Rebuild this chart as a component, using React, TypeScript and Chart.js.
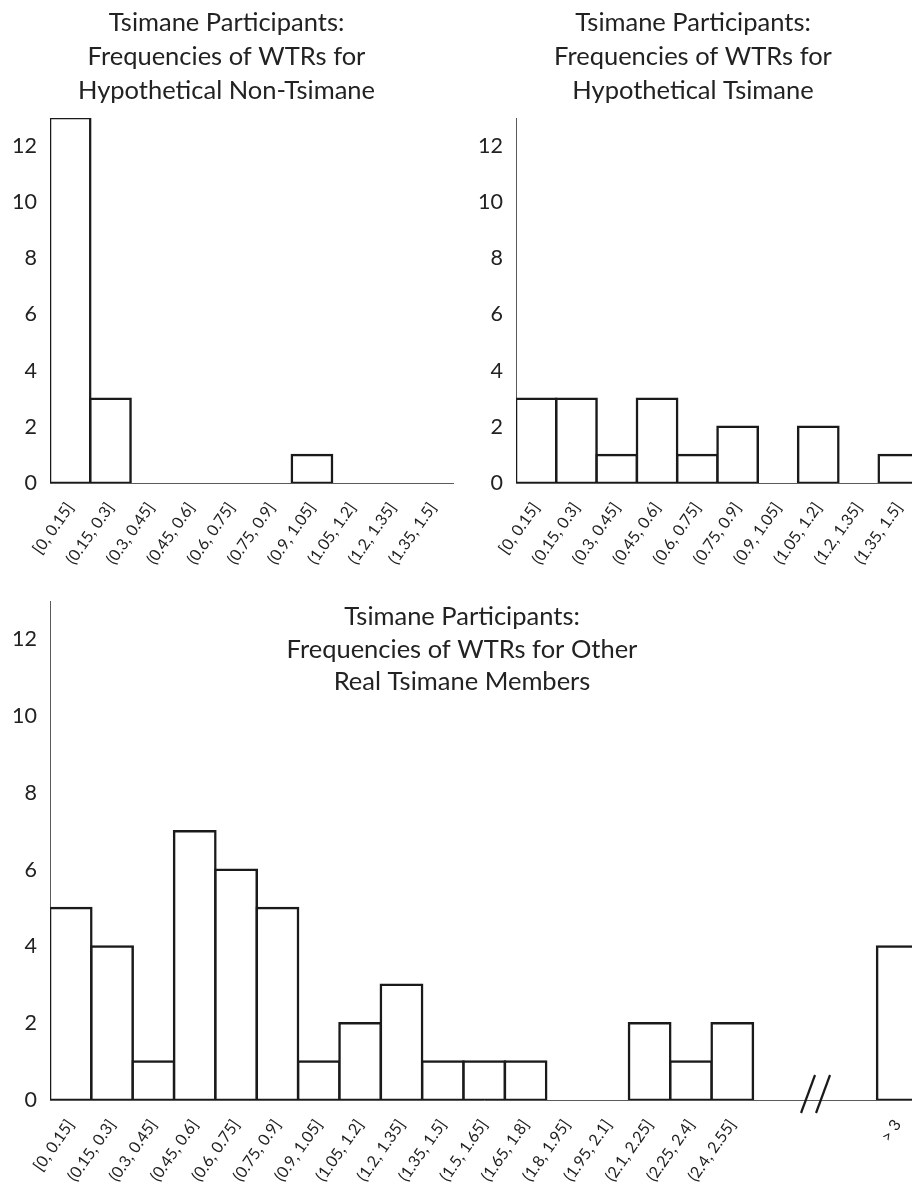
import React, { useEffect, useRef } from 'react';
import { Chart, registerables } from 'chart.js';

Chart.register(...registerables);

// ---------- data ----------
const binLabels = [
  '[0, 0.15]', '(0.15, 0.3]', '(0.3, 0.45]', '(0.45, 0.6]', '(0.6, 0.75]',
  '(0.75, 0.9]', '(0.9, 1.05]', '(1.05, 1.2]', '(1.2, 1.35]', '(1.35, 1.5]',
];
const extendedBinLabels = [
  ...binLabels,
  '(1.5, 1.65]', '(1.65, 1.8]', '(1.8, 1.95]', '(1.95, 2.1]', '(2.1, 2.25]',
  '(2.25, 2.4]', '(2.4, 2.55]', '', '', '', '> 3',
];
const hypotheticalNonTsimaneCounts = [13, 3, 0, 0, 0, 0, 1, 0, 0, 0];
const hypotheticalTsimaneCounts = [3, 3, 1, 3, 1, 2, 0, 2, 0, 1];
const realTsimaneCounts = [5, 4, 1, 7, 6, 5, 1, 2, 3, 1, 1, 1, 0, 0, 2, 1, 2, null, null, null, 4];
const axisBreakIndex = 18;

const yMin = 0;
const yMax = 13;
const yStep = 2;

const titleNonTsimane = ['Tsimane Participants:', 'Frequencies of WTRs for', 'Hypothetical Non-Tsimane'];
const titleTsimane = ['Tsimane Participants:', 'Frequencies of WTRs for', 'Hypothetical Tsimane'];
const titleReal = ['Tsimane Participants:', 'Frequencies of WTRs for Other', 'Real Tsimane Members'];

// ---------- styles ----------
const FONT = 'Lato, "Open Sans", sans-serif';
const TEXT = '#222222';
const AXIS = '#5a5a5a';
const BAR_BORDER = '#1a1a1a';
const TITLE_SIZE = 25.5;

type Props = {
  labels: string[];
  counts: (number | null)[];
  titleLines: string[];
  titleInside?: boolean;
  left: number;
  top: number;
  width: number;
  height: number;
  yAxisWidth: number;
  xAxisHeight: number;
  padRight: number;
  padTop: number;
  breakIndex?: number;
};

function HistChart(p: Props) {
  const ref = useRef<HTMLCanvasElement | null>(null);
  useEffect(() => {
    if (!ref.current) return;
    const insideTitle = {
      id: 'insideTitle',
      afterDraw(chart: any) {
        if (!p.titleInside) return;
        const ctx = chart.ctx;
        ctx.save();
        ctx.font = `${TITLE_SIZE}px ${FONT}`;
        ctx.fillStyle = TEXT;
        ctx.textAlign = 'center';
        ctx.textBaseline = 'alphabetic';
        const top = chart.chartArea.top;
        p.titleLines.forEach((line, i) => {
          ctx.fillText(line, chart.width / 2, top + 24 + i * 32.5);
        });
        ctx.restore();
      },
    };
    const axisBreak = {
      id: 'axisBreak',
      afterDraw(chart: any) {
        if (p.breakIndex === undefined) return;
        const ctx = chart.ctx;
        const x = chart.scales.x.getPixelForValue(p.breakIndex);
        const y = chart.scales.y.getPixelForValue(0);
        ctx.save();
        ctx.strokeStyle = BAR_BORDER;
        ctx.lineWidth = 2.2;
        [-7, 8].forEach((dx) => {
          ctx.beginPath();
          ctx.moveTo(x + dx - 7, y + 13);
          ctx.lineTo(x + dx + 7, y - 25);
          ctx.stroke();
        });
        ctx.restore();
      },
    };
    const chart = new Chart(ref.current, {
      type: 'bar',
      data: {
        labels: p.labels,
        datasets: [
          {
            data: p.counts.map((v) => (v === 0 ? null : v)),
            backgroundColor: '#ffffff',
            borderColor: BAR_BORDER,
            borderWidth: 2.5,
            borderSkipped: false,
            inflateAmount: 1.25,
            categoryPercentage: 1,
            barPercentage: 1,
          } as any,
        ],
      },
      options: {
        responsive: false,
        animation: false,
        devicePixelRatio: 1,
        layout: { padding: { left: 0, right: p.padRight, top: p.padTop, bottom: 0 } },
        plugins: {
          legend: { display: false },
          tooltip: { enabled: false },
          title: {
            display: !p.titleInside,
            text: p.titleLines,
            color: TEXT,
            font: { family: FONT, size: TITLE_SIZE, weight: 'normal', lineHeight: 34 / TITLE_SIZE },
            padding: { top: 6, bottom: 10 },
          },
        },
        scales: {
          x: {
            grid: { display: false, drawTicks: false },
            border: { display: true, color: AXIS, width: 1 },
            ticks: {
              autoSkip: false,
              minRotation: 55,
              maxRotation: 55,
              padding: 16,
              color: TEXT,
              font: { family: FONT, size: 16 },
            },
            afterFit: (s: any) => {
              s.height = p.xAxisHeight;
              s.paddingLeft = 0;
              s.paddingRight = 0;
            },
          },
          y: {
            min: yMin,
            max: yMax,
            grid: { display: false, drawTicks: false },
            border: { display: true, color: AXIS, width: 1 },
            ticks: {
              stepSize: yStep,
              includeBounds: false,
              padding: 13,
              color: TEXT,
              font: { family: FONT, size: 21.5 },
            },
            afterFit: (s: any) => {
              s.width = p.yAxisWidth;
              s.paddingTop = 0;
              s.paddingBottom = 0;
            },
          },
        },
      },
      plugins: [insideTitle, axisBreak],
    } as any);
    return () => chart.destroy();
  }, []);
  return (
    <canvas
      ref={ref}
      width={p.width}
      height={p.height}
      style={{ position: 'absolute', left: p.left, top: p.top, width: p.width, height: p.height }}
    />
  );
}

export default function App() {
  return (
    <div
      style={{
        position: 'absolute',
        left: 0,
        top: 0,
        width: 912,
        height: 1193,
        overflow: 'hidden',
        background: '#ffffff',
      }}
    >
      <HistChart
        labels={binLabels}
        counts={hypotheticalNonTsimaneCounts}
        titleLines={titleNonTsimane}
        left={0}
        top={0}
        width={467}
        height={575}
        yAxisWidth={50}
        xAxisHeight={92}
        padRight={14}
        padTop={0}
      />
      <HistChart
        labels={binLabels}
        counts={hypotheticalTsimaneCounts}
        titleLines={titleTsimane}
        left={467}
        top={0}
        width={468}
        height={575}
        yAxisWidth={49}
        xAxisHeight={92}
        padRight={16}
        padTop={0}
      />
      <HistChart
        labels={extendedBinLabels}
        counts={realTsimaneCounts}
        titleLines={titleReal}
        titleInside
        left={0}
        top={585}
        width={924}
        height={608}
        yAxisWidth={50}
        xAxisHeight={93}
        padRight={5.6}
        padTop={16}
        breakIndex={axisBreakIndex}
      />
    </div>
  );
}
